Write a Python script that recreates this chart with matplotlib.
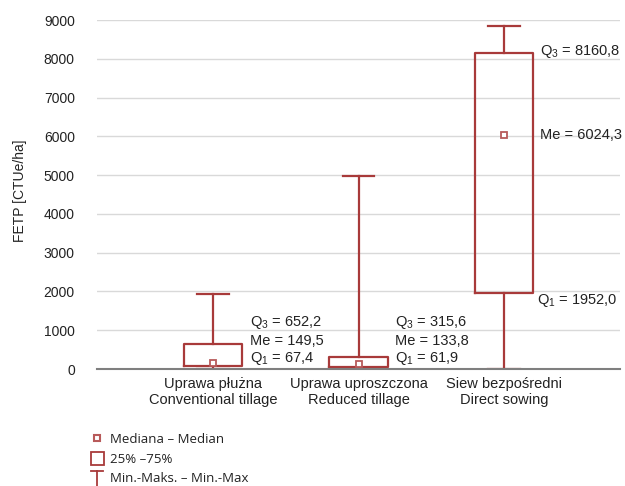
import matplotlib
matplotlib.use("Agg")
import matplotlib.pyplot as plt
from matplotlib.patches import Rectangle
from matplotlib.lines import Line2D

categories = ["Uprawa płużna\nConventional tillage",
              "Uprawa uproszczona\nReduced tillage",
              "Siew bezpośredni\nDirect sowing"]
q1 = [67.4, 61.9, 1952.0]
med = [149.5, 133.8, 6024.3]
q3 = [652.2, 315.6, 8160.8]
vmin = [0, 0, 0]
vmax = [1930, 4970, 8850]
q1_lbl = ["Q$_1$ = 67,4", "Q$_1$ = 61,9", "Q$_1$ = 1952,0"]
me_lbl = ["Me = 149,5", "Me = 133,8", "Me = 6024,3"]
q3_lbl = ["Q$_3$ = 652,2", "Q$_3$ = 315,6", "Q$_3$ = 8160,8"]
yticks = list(range(0, 9001, 1000))

plt.rcParams['font.family'] = ['Liberation Sans', 'DejaVu Sans']
plt.rcParams['mathtext.fontset'] = 'custom'
plt.rcParams['mathtext.rm'] = 'Liberation Sans'
plt.rcParams['mathtext.it'] = 'Liberation Sans'
plt.rcParams['mathtext.default'] = 'regular'

RED = "#a83a3a"
MRED = "#b85a5a"
TXT = "#222222"
W, H = 625, 486
fig = plt.figure(figsize=(W/100, H/100), dpi=100)
ax = fig.add_axes([97/W, 1-369/H, (620-97)/W, (369-20)/H])

stats = [dict(med=m, q1=a, q3=b, whislo=lo, whishi=hi, fliers=[])
         for m, a, b, lo, hi in zip(med, q1, q3, vmin, vmax)]
pos = list(range(len(categories)))
ax.bxp(stats, positions=pos, widths=0.4, capwidths=0.22, showfliers=False,
       boxprops=dict(color=RED, linewidth=1.6),
       whiskerprops=dict(color=RED, linewidth=1.6),
       capprops=dict(color=RED, linewidth=1.6),
       medianprops=dict(linewidth=0))
ax.plot(pos, med, linestyle='none', marker='s', markersize=4.5,
        markerfacecolor='white', markeredgecolor=MRED, markeredgewidth=1.3, zorder=5)

ax.set_xlim(-0.8, 2.8)
ax.set_ylim(0, 9000)
ax.set_yticks(yticks)
ax.set_yticklabels([str(v) for v in yticks], fontsize=10, color=TXT)
ax.set_xticks(pos)
ax.set_xticklabels(categories, fontsize=10.5, color=TXT, linespacing=1.15)
ax.tick_params(axis='both', length=0)
ax.tick_params(axis='y', pad=16)
ax.tick_params(axis='x', pad=6)
ax.yaxis.grid(True, color='#d9d9d9', linewidth=1)
ax.set_axisbelow(True)
for s in ['top', 'right', 'left']:
    ax.spines[s].set_visible(False)
ax.spines['bottom'].set_color('#7f7f7f')
ax.spines['bottom'].set_linewidth(1.5)
ax.set_ylabel("FETP [CTUe/ha]", fontsize=10, color=TXT)
ax.yaxis.set_label_coords(-0.133, 0.51)

fs = 10.5
# group 1 and 2 annotations
for i in range(2):
    x = pos[i] + 0.25
    ax.text(x, 1187, q3_lbl[i], fontsize=fs, va='center', ha='left', color=TXT)
    ax.text(x, 722, me_lbl[i], fontsize=fs, va='center', ha='left', color=TXT)
    ax.text(x, 258, q1_lbl[i], fontsize=fs, va='center', ha='left', color=TXT)
x = pos[2] + 0.25
ax.text(x, q3[2] + 20, q3_lbl[2], fontsize=fs, va='center', ha='left', color=TXT)
ax.text(x, med[2], me_lbl[2], fontsize=fs, va='center', ha='left', color=TXT)
ax.text(x - 0.02, q1[2] - 180, q1_lbl[2], fontsize=fs, va='center', ha='left', color=TXT)

# legend (figure pixel coordinates)
def fx(px): return px / W
def fy(py): return 1 - py / H
fig.add_artist(Rectangle((fx(94), fy(441)), 6/W, 6/H, facecolor='white',
                         edgecolor=MRED, linewidth=1.5, transform=fig.transFigure))
fig.add_artist(Rectangle((fx(91), fy(465)), 13/W, 13/H, facecolor='white',
                         edgecolor=RED, linewidth=1.3, transform=fig.transFigure))
fig.add_artist(Line2D([fx(97), fx(97)], [fy(471), fy(490)], color=RED, linewidth=1.3,
                      transform=fig.transFigure))
fig.add_artist(Line2D([fx(91), fx(103)], [fy(471), fy(471)], color=RED, linewidth=1.3,
                      transform=fig.transFigure))
lfam = ['Open Sans', 'DejaVu Sans']
fig.text(fx(110), fy(439), "Mediana – Median", fontsize=9.5, family=lfam, va='center', color=TXT)
fig.text(fx(110), fy(459), "25% –75%", fontsize=9.5, family=lfam, va='center', color=TXT)
fig.text(fx(110), fy(478), "Min.-Maks. – Min.-Max", fontsize=9.5, family=lfam, va='center', color=TXT)

fig.savefig("out.png", dpi=100)
